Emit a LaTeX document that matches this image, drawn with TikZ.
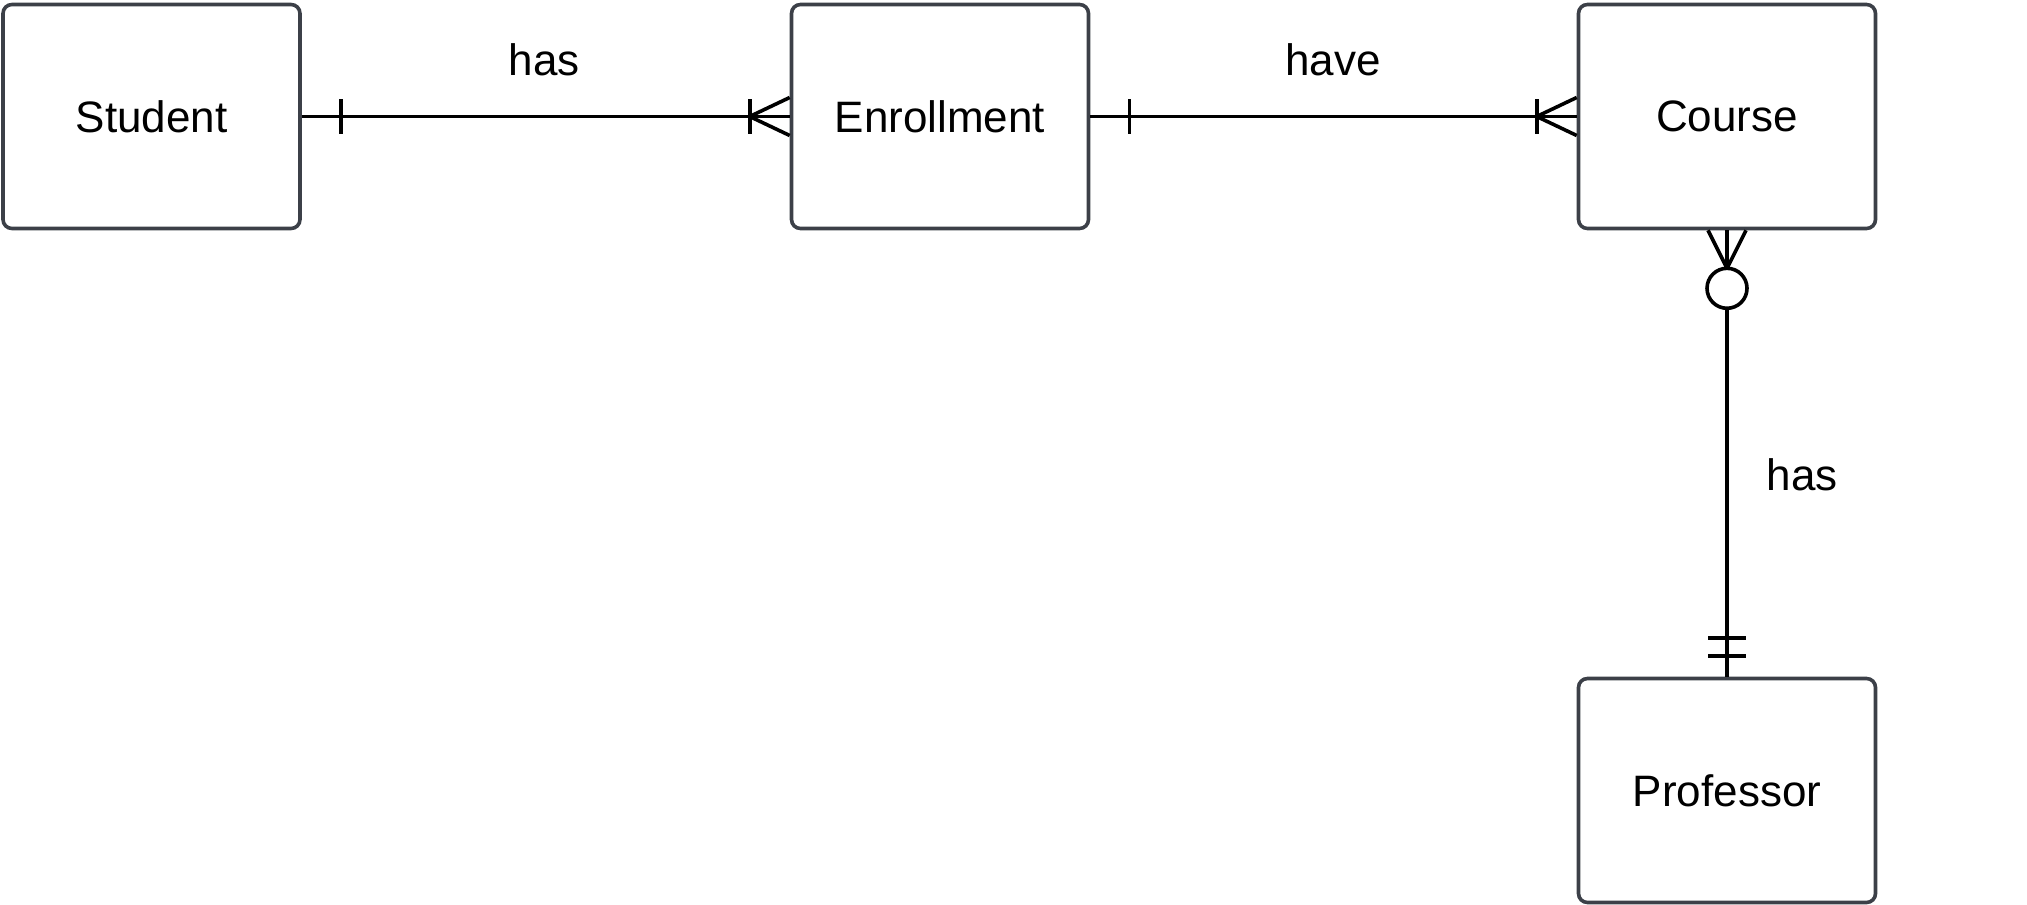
\documentclass[tikz,border=0pt]{standalone}
\usepackage{fontspec}
\setmainfont{Liberation Sans}
\usetikzlibrary{calc}
\definecolor{boxline}{RGB}{60,64,72}
\begin{document}
\begin{tikzpicture}[x=0.5pt,y=-0.5pt,
  entity/.style={draw=boxline,line width=1.8pt,rounded corners=4.5pt,minimum width=148.5pt,minimum height=112pt,inner sep=0pt,font=\fontsize{22}{26}\selectfont},
  conn/.style={line width=1.8pt,draw=black},
  lbl/.style={font=\fontsize{22}{26}\selectfont,inner sep=0pt}]
\useasboundingbox (0,0) rectangle (2027,904);
\node[entity] (student) at (151.5,116.5) {Student};
\node[entity] (enroll) at (940,116.5) {Enrollment};
\node[entity] (course) at (1727,116.5) {Course};
\node[entity] (prof) at (1727,790.5) {Professor};
% Student -- Enrollment
\draw[conn] (student.east) -- (enroll.west);
\draw[conn] ($(student.east)+(39,-17)$) -- ($(student.east)+(39,17)$);
\draw[conn] ($(enroll.west)+(-40,-17)$) -- ($(enroll.west)+(-40,17)$);
\draw[conn] ($(enroll.west)+(0,-19)$) -- ($(enroll.west)+(-40,0)$) -- ($(enroll.west)+(0,19)$);
% Enrollment -- Course
\draw[conn] (enroll.east) -- (course.west);
\draw[conn] ($(enroll.east)+(39,-17)$) -- ($(enroll.east)+(39,17)$);
\draw[conn] ($(course.west)+(-40,-17)$) -- ($(course.west)+(-40,17)$);
\draw[conn] ($(course.west)+(0,-19)$) -- ($(course.west)+(-40,0)$) -- ($(course.west)+(0,19)$);
% Course -- Professor
\draw[conn] (course.south) -- (prof.north);
\draw[conn] ($(course.south)+(-19,0)$) -- ($(course.south)+(0,38)$) -- ($(course.south)+(19,0)$);
\draw[conn,fill=white] ($(course.south)+(0,58)$) circle[radius=10pt];
\draw[conn] ($(prof.north)+(-19,-39)$) -- ($(prof.north)+(19,-39)$);
\draw[conn] ($(prof.north)+(-19,-21)$) -- ($(prof.north)+(19,-21)$);
% labels
\node[lbl] (l1) at (544,60) {has};
\node[lbl] (l2) at (1333,60) {have};
\node[lbl] (l3) at (1802,475) {has};
\end{tikzpicture}
\end{document}
